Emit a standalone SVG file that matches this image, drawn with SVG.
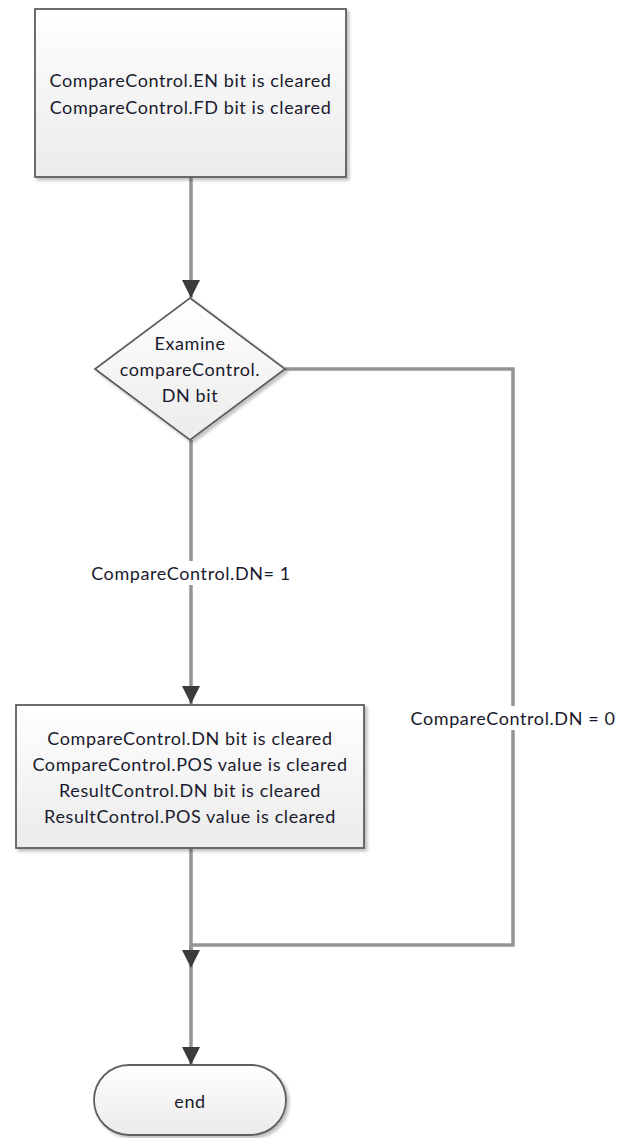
<svg xmlns="http://www.w3.org/2000/svg" width="623" height="1138" viewBox="0 0 623 1138">
<style>
.node{fill:url(#g);stroke:#5e5e5e;stroke-width:1.8;filter:url(#sh)}
.t{font-family:"Lato","Open Sans",sans-serif;font-size:18px;letter-spacing:0.6px;fill:#1a1a2e;text-anchor:middle;dominant-baseline:central}
.c{fill:none;stroke:#959595;stroke-width:3.5}
.lbl{fill:#fff}
</style>
<defs>
<linearGradient id="g" x1="0" y1="0" x2="0" y2="1"><stop offset="0" stop-color="#ffffff"/><stop offset="1" stop-color="#ebebeb"/></linearGradient>
<filter id="sh" x="-10%" y="-10%" width="130%" height="130%"><feDropShadow dx="2.5" dy="2.5" stdDeviation="1.5" flood-color="#000" flood-opacity="0.25"/></filter>
<marker id="ar" viewBox="0 0 18 18" refX="18" refY="9" markerWidth="18" markerHeight="18" orient="auto" markerUnits="userSpaceOnUse"><path d="M0,0 L18,9 L0,18 Z" fill="#3c3c3c"/></marker>
</defs>
<g id="connectors">
<path class="c" d="M191,177 V298" marker-end="url(#ar)"/>
<path class="c" d="M191,440 V704" marker-end="url(#ar)"/>
<rect class="lbl" x="82" y="561" width="218" height="24"/>
<text class="t" x="191" y="573">CompareControl.DN= 1</text>
<path class="c" d="M285,369 H513 V945 H191"/>
<rect class="lbl" x="405" y="706" width="218" height="24"/>
<text class="t" x="513" y="718">CompareControl.DN = 0</text>
<path class="c" d="M191,945 V1065" marker-end="url(#ar)"/>
<path class="c" d="M191,848 V968" marker-end="url(#ar)"/>
</g>
<g id="n1">
<rect class="node" x="35" y="9" width="311" height="168"/>
<text class="t" x="190.5" y="80">CompareControl.EN bit is cleared</text>
<text class="t" x="190.5" y="107">CompareControl.FD bit is cleared</text>
</g>
<g id="n2">
<polygon class="node" points="190,298 285,369 190,440 95,369"/>
<text class="t" x="190" y="343">Examine</text>
<text class="t" x="190" y="369">compareControl.</text>
<text class="t" x="190" y="395">DN bit</text>
</g>
<g id="n3">
<rect class="node" x="16" y="705" width="348" height="143"/>
<text class="t" x="190" y="738">CompareControl.DN bit is cleared</text>
<text class="t" x="190" y="764">CompareControl.POS value is cleared</text>
<text class="t" x="190" y="790">ResultControl.DN bit is cleared</text>
<text class="t" x="190" y="816">ResultControl.POS value is cleared</text>
</g>
<g id="n4">
<rect class="node" x="94" y="1065" width="192" height="70" rx="35" ry="35"/>
<text class="t" x="190" y="1101">end</text>
</g>
</svg>
